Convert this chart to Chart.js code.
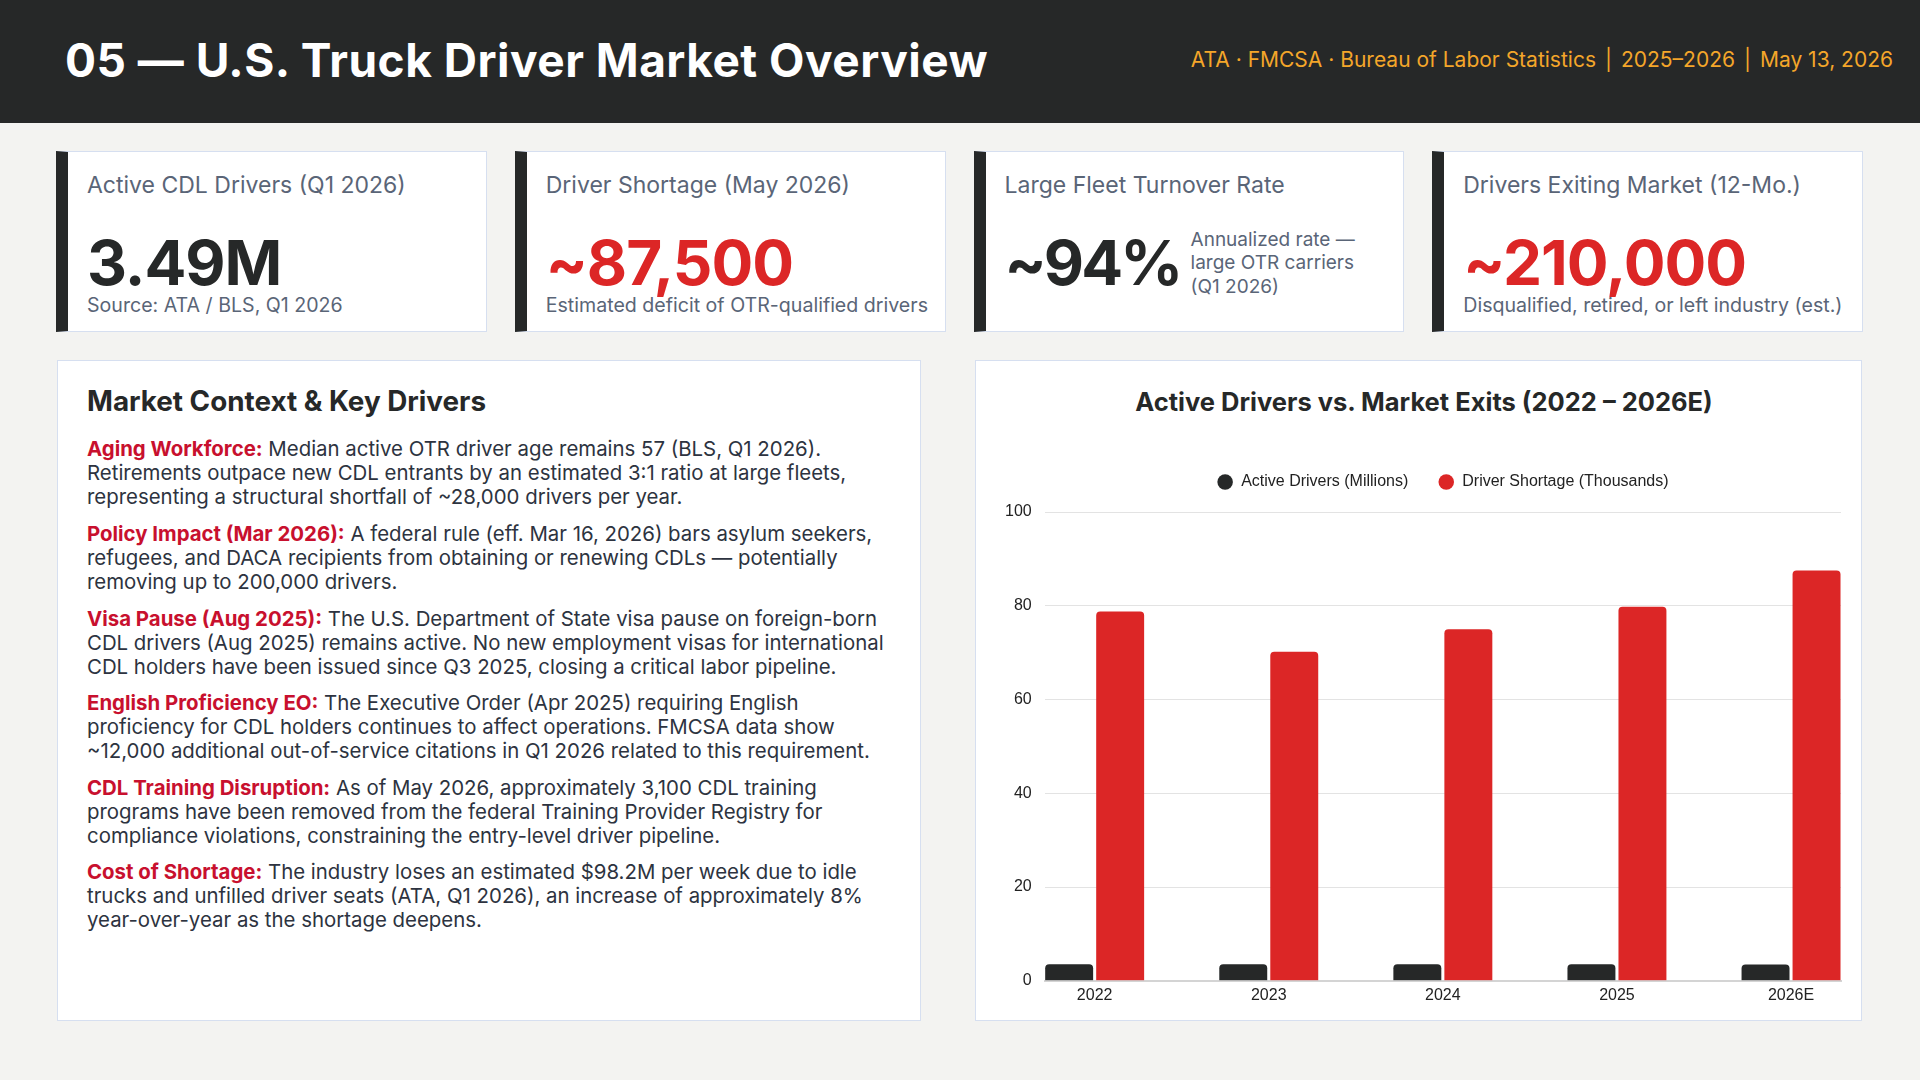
<!DOCTYPE html>
<html lang="en">
<head>
<meta charset="UTF-8">
<title>05 — U.S. Truck Driver Market Overview</title>
<script src="https://cdn.jsdelivr.net/npm/chart.js@4.4.1/dist/chart.umd.min.js"></script>
<style>
    * { box-sizing: border-box; }
    body {
        margin: 0;
        width: 1920px;
        height: 1080px;
        background: #f3f3f1;
        font-family: 'Inter', 'Noto Sans', sans-serif;
        color: #262828;
        position: relative;
        overflow: hidden;
    }
    header {
        position: absolute;
        left: 0; top: 0;
        width: 1920px; height: 123px;
        background: #262828;
    }
    header h1 {
        position: absolute;
        left: 65px; top: 33px;
        margin: 0;
        font-size: 46px;
        line-height: 54px;
        font-weight: 700;
        letter-spacing: 0.5px;
        color: #ffffff;
        white-space: nowrap;
    }
    header .meta {
        position: absolute;
        right: 27px; top: 47px;
        font-size: 21px;
        line-height: 26px;
        color: #f4a62a;
        white-space: nowrap;
    }
    header .meta .sep { margin: 0 9px; }
    .cards {
        position: absolute;
        left: 56px; top: 151px;
        width: 1807px; height: 181px;
        display: grid;
        grid-template-columns: repeat(4, 1fr);
        gap: 28px;
    }
    .card {
        background: #ffffff;
        border: 1px solid #d6dff0;
        border-left: 12px solid #262828;
        padding: 20px 10px 0 19px;
    }
    .card .label {
        font-size: 23px;
        line-height: 26px;
        color: #5a6577;
        white-space: nowrap;
    }
    .card .value {
        margin-top: 34px;
        font-size: 62px;
        line-height: 62px;
        font-weight: 700;
        letter-spacing: -1px;
        color: #262828;
        white-space: nowrap;
    }
    .card .value.red { color: #dc2626; }
    .card .sub {
        font-size: 19.6px;
        line-height: 23px;
        color: #5a6577;
        white-space: nowrap;
    }
    .card .row {
        margin-top: 34px;
        display: flex;
        align-items: center;
        height: 62px;
    }
    .card .row .value { margin-top: 0; letter-spacing: -2.8px; }
    .card .row .side {
        margin-left: 10px;
        font-size: 19px;
        line-height: 23.5px;
        color: #5a6577;
        white-space: nowrap;
    }
    .panel {
        position: absolute;
        top: 360px;
        height: 661px;
        background: #ffffff;
        border: 1px solid #d6dff0;
    }
    .panel.context {
        left: 57px; width: 864px;
        padding: 24px 29px 0 29px;
    }
    .panel.context h2 {
        margin: 0 0 20.4px 0;
        font-size: 27.8px;
        line-height: 32px;
        font-weight: 700;
        color: #262828;
    }
    .panel.context p {
        margin: 0 0 12.6px 0;
        font-size: 20.4px;
        line-height: 24px;
        color: #2d3340;
        white-space: nowrap;
    }
    .panel.context p b {
        color: #c8102e;
        font-weight: 700;
    }
    .panel.chart {
        left: 975px; width: 887px;
    }
    .panel.chart h3 {
        position: absolute;
        left: 11px; right: 0; top: 25.5px;
        margin: 0;
        text-align: center;
        font-size: 25.5px;
        line-height: 30px;
        font-weight: 700;
        color: #262828;
        white-space: nowrap;
    }
    .chart-box {
        position: absolute;
        left: 0; top: 0;
        width: 885px; height: 659px;
    }
</style>
</head>
<body>
<header>
    <h1>05 — U.S. Truck Driver Market Overview</h1>
    <div class="meta">ATA · FMCSA · Bureau of Labor Statistics<span class="sep">|</span>2025–2026<span class="sep">|</span>May 13, 2026</div>
</header>

<div class="cards">
    <div class="card">
        <div class="label">Active CDL Drivers (Q1 2026)</div>
        <div class="value">3.49M</div>
        <div class="sub">Source: ATA / BLS, Q1 2026</div>
    </div>
    <div class="card">
        <div class="label">Driver Shortage (May 2026)</div>
        <div class="value red">~87,500</div>
        <div class="sub">Estimated deficit of OTR-qualified drivers</div>
    </div>
    <div class="card">
        <div class="label">Large Fleet Turnover Rate</div>
        <div class="row">
            <div class="value">~94%</div>
            <div class="side">Annualized rate —<br>large OTR carriers<br>(Q1 2026)</div>
        </div>
    </div>
    <div class="card">
        <div class="label">Drivers Exiting Market (12-Mo.)</div>
        <div class="value red">~210,000</div>
        <div class="sub">Disqualified, retired, or left industry (est.)</div>
    </div>
</div>

<div class="panel context">
    <h2>Market Context &amp; Key Drivers</h2>
    <p><b>Aging Workforce:</b> Median active OTR driver age remains 57 (BLS, Q1 2026).<br>Retirements outpace new CDL entrants by an estimated 3:1 ratio at large fleets,<br>representing a structural shortfall of ~28,000 drivers per year.</p>
    <p><b>Policy Impact (Mar 2026):</b> A federal rule (eff. Mar 16, 2026) bars asylum seekers,<br>refugees, and DACA recipients from obtaining or renewing CDLs — potentially<br>removing up to 200,000 drivers.</p>
    <p><b>Visa Pause (Aug 2025):</b> The U.S. Department of State visa pause on foreign-born<br>CDL drivers (Aug 2025) remains active. No new employment visas for international<br>CDL holders have been issued since Q3 2025, closing a critical labor pipeline.</p>
    <p><b>English Proficiency EO:</b> The Executive Order (Apr 2025) requiring English<br>proficiency for CDL holders continues to affect operations. FMCSA data show<br>~12,000 additional out-of-service citations in Q1 2026 related to this requirement.</p>
    <p><b>CDL Training Disruption:</b> As of May 2026, approximately 3,100 CDL training<br>programs have been removed from the federal Training Provider Registry for<br>compliance violations, constraining the entry-level driver pipeline.</p>
    <p><b>Cost of Shortage:</b> The industry loses an estimated $98.2M per week due to idle<br>trucks and unfilled driver seats (ATA, Q1 2026), an increase of approximately 8%<br>year-over-year as the shortage deepens.</p>
</div>

<div class="panel chart">
    <h3>Active Drivers vs. Market Exits (2022 – 2026E)</h3>
    <div class="chart-box"><canvas id="driversChart"></canvas></div>
</div>

<script>
// chart data
const years = ['2022', '2023', '2024', '2025', '2026E'];
const activeDrivers = [3.55, 3.54, 3.52, 3.51, 3.49];      // millions
const driverShortage = [78.8, 70.2, 75.0, 79.8, 87.5];     // thousands
const yTicks = [0, 20, 40, 60, 80, 100];

const axisFont = { family: "'Liberation Sans', Arial, sans-serif", size: 16 };

// bars sit on a linear index axis so the outer groups touch the plot edges
const toPoints = values => values.map((v, i) => ({ x: i, y: v }));

// a bit more air between the legend and the plot
const legendSpacer = {
    id: 'legendSpacer',
    beforeInit(chart) {
        const fit = chart.legend.fit;
        chart.legend.fit = function () {
            fit.call(this);
            this.height += 12;
        };
    }
};

document.addEventListener('DOMContentLoaded', () => {
    const ctx = document.getElementById('driversChart').getContext('2d');

    new Chart(ctx, {
        type: 'bar',
        data: {
            datasets: [
                {
                    label: 'Active Drivers (Millions)',
                    data: toPoints(activeDrivers),
                    backgroundColor: '#262828',
                    borderRadius: 4,
                    borderSkipped: 'start'
                },
                {
                    label: 'Driver Shortage (Thousands)',
                    data: toPoints(driverShortage),
                    backgroundColor: '#dc2626',
                    borderRadius: 4,
                    borderSkipped: 'start'
                }
            ]
        },
        plugins: [legendSpacer],
        options: {
            responsive: true,
            maintainAspectRatio: false,
            animation: false,
            categoryPercentage: 0.586,
            barPercentage: 0.94,
            layout: {
                padding: { left: 16, right: 20, top: 83, bottom: 10 }
            },
            plugins: {
                legend: {
                    position: 'top',
                    fullSize: false,
                    labels: {
                        usePointStyle: true,
                        pointStyle: 'circle',
                        boxWidth: 16,
                        boxHeight: 11,
                        padding: 30,
                        color: '#222222',
                        font: axisFont
                    }
                },
                tooltip: { enabled: false }
            },
            scales: {
                x: {
                    type: 'linear',
                    offset: false,
                    min: -0.287,
                    max: years.length - 1 + 0.287,
                    grid: { display: false, drawTicks: false },
                    border: { display: true, color: '#d4d4d4', width: 2 },
                    afterBuildTicks: axis => {
                        axis.ticks = years.map((_, i) => ({ value: i }));
                    },
                    ticks: {
                        padding: 5,
                        maxRotation: 0,
                        color: '#222222',
                        font: axisFont,
                        callback: value => years[value]
                    }
                },
                y: {
                    min: 0,
                    max: 100,
                    grid: { color: '#e3e3e3', drawTicks: false },
                    border: { display: false },
                    afterBuildTicks: axis => {
                        axis.ticks = yTicks.map(v => ({ value: v }));
                    },
                    ticks: {
                        padding: 13,
                        color: '#222222',
                        font: axisFont
                    }
                }
            }
        }
    });
});
</script>
</body>
</html>
